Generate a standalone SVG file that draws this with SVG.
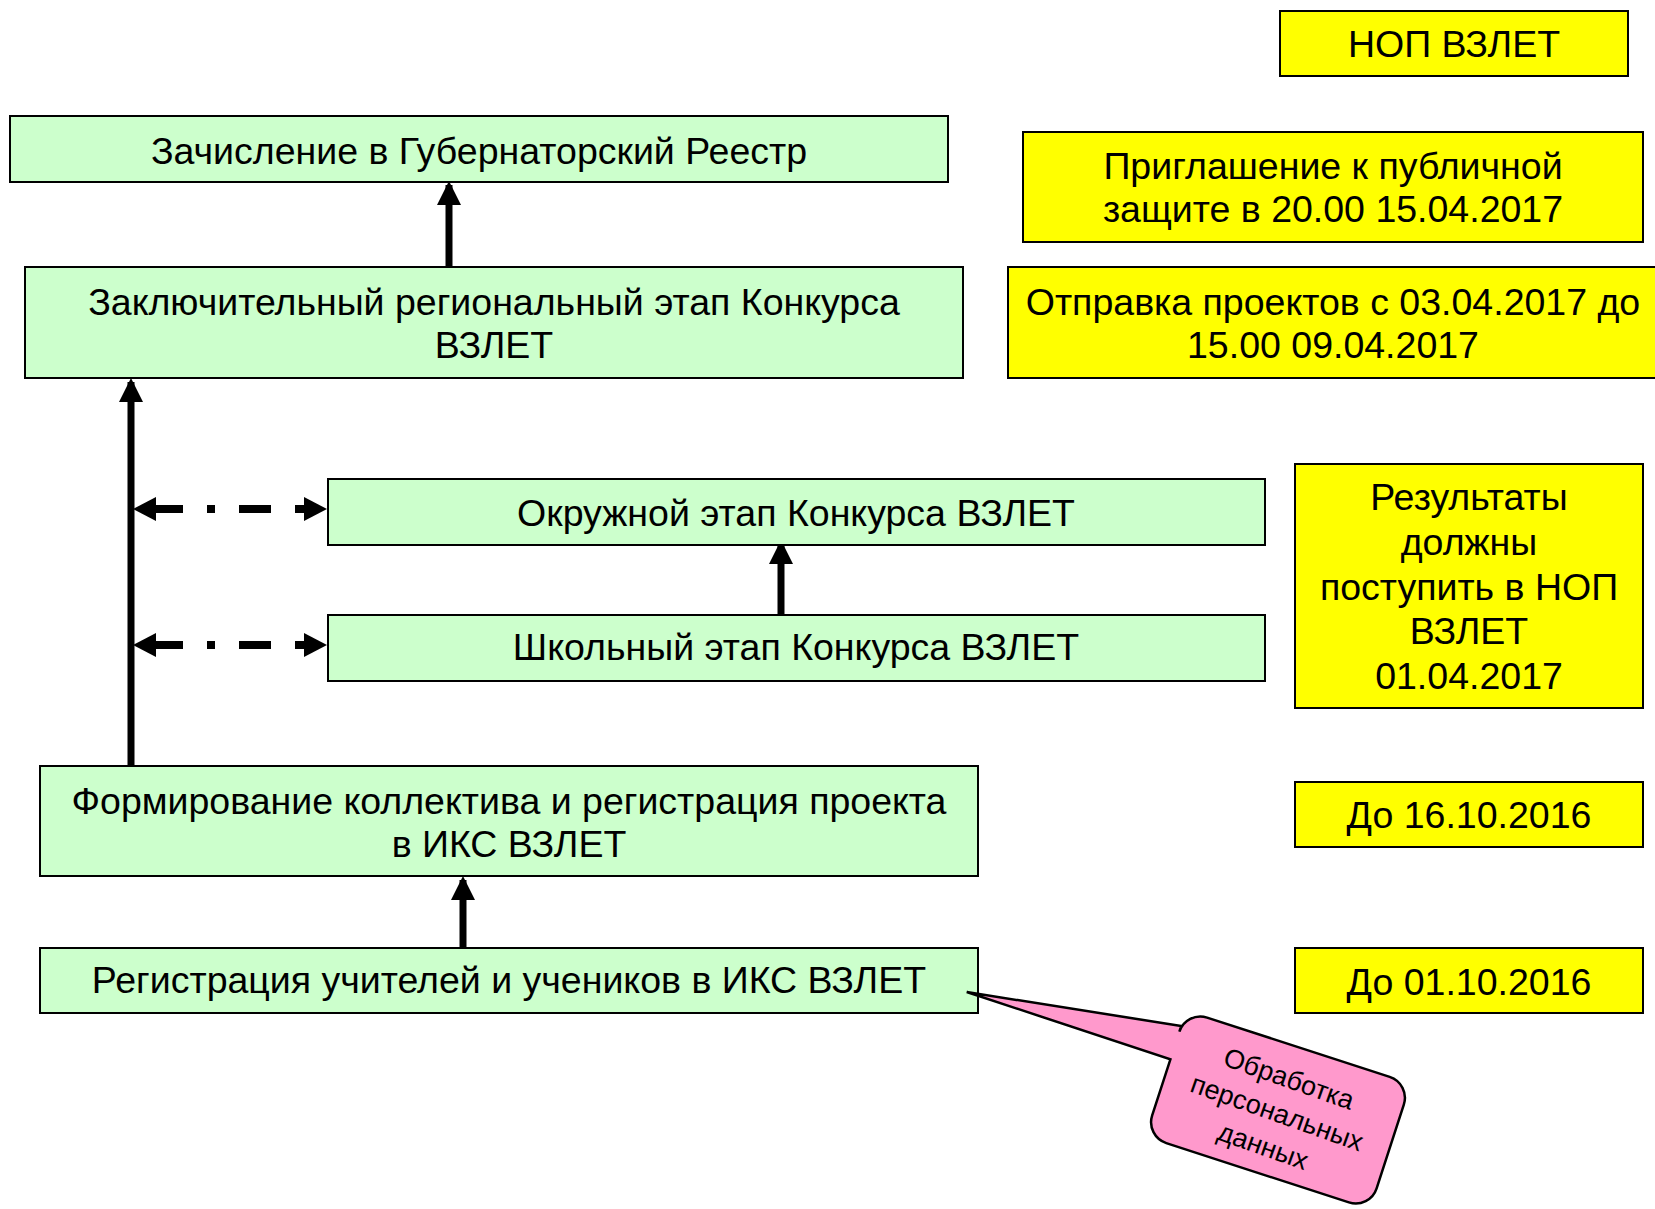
<svg xmlns="http://www.w3.org/2000/svg" width="1655" height="1209" viewBox="0 0 1655 1209">
<defs>
<style>
.g{fill:#CCFFCC;stroke:#000;stroke-width:2}
.y{fill:#FFFF00;stroke:#000;stroke-width:2}
.t{font-family:"Liberation Sans",Arial,sans-serif;font-size:37.5px;fill:#000;text-anchor:middle}
.ct{font-family:"Liberation Sans",Arial,sans-serif;font-size:27px;fill:#000;text-anchor:middle}
.solid{stroke:#000;stroke-width:7;fill:none}
.dash{stroke:#000;stroke-width:8;fill:none;stroke-dasharray:42 24 8 24 32 24 30}
</style>
<marker id="ah" viewBox="0 0 24 24" refX="20" refY="12" markerWidth="24" markerHeight="24" markerUnits="userSpaceOnUse" orient="auto-start-reverse">
<path d="M0,0 L24,12 L0,24 z" fill="#000"/>
</marker>
<marker id="ad" viewBox="0 0 23 24" refX="15" refY="12" markerWidth="23" markerHeight="24" markerUnits="userSpaceOnUse" orient="auto-start-reverse">
<path d="M0,0 L23,12 L0,24 z" fill="#000"/>
</marker>
</defs>
<rect width="1655" height="1209" fill="#fff"/>

<g id="connectors">
<line class="solid" x1="449" y1="267" x2="449" y2="185" marker-end="url(#ah)"/>
<line class="solid" x1="131" y1="766" x2="131" y2="382" marker-end="url(#ah)"/>
<line class="solid" x1="781" y1="615" x2="781" y2="544" marker-end="url(#ah)"/>
<line class="solid" x1="463" y1="948" x2="463" y2="880" marker-end="url(#ah)"/>
<path class="dash" d="M141,509 H319" marker-start="url(#ad)" marker-end="url(#ad)"/>
<path class="dash" d="M141,645 H319" marker-start="url(#ad)" marker-end="url(#ad)"/>
</g>

<g id="node-zachislenie">
<rect class="g" x="10" y="116" width="938" height="66"/>
<text class="t" x="479" y="164">Зачисление в Губернаторский Реестр</text>
</g>
<g id="node-zakl">
<rect class="g" x="25" y="267" width="938" height="111"/>
<text class="t" x="494" y="315">Заключительный региональный этап Конкурса</text>
<text class="t" x="494" y="358">ВЗЛЕТ</text>
</g>
<g id="node-okruzh">
<rect class="g" x="328" y="479" width="937" height="66"/>
<text class="t" x="796" y="526">Окружной этап Конкурса ВЗЛЕТ</text>
</g>
<g id="node-shkol">
<rect class="g" x="328" y="615" width="937" height="66"/>
<text class="t" x="796" y="660">Школьный этап Конкурса ВЗЛЕТ</text>
</g>
<g id="node-form">
<rect class="g" x="40" y="766" width="938" height="110"/>
<text class="t" x="509" y="814">Формирование коллектива и регистрация проекта</text>
<text class="t" x="509" y="857">в ИКС ВЗЛЕТ</text>
</g>
<g id="node-reg">
<rect class="g" x="40" y="948" width="938" height="65"/>
<text class="t" x="509" y="993">Регистрация учителей и учеников в ИКС ВЗЛЕТ</text>
</g>

<g id="node-nop">
<rect class="y" x="1280" y="11" width="348" height="65"/>
<text class="t" x="1454" y="57">НОП ВЗЛЕТ</text>
</g>
<g id="node-priglashenie">
<rect class="y" x="1023" y="132" width="620" height="110"/>
<text class="t" x="1333" y="179">Приглашение к публичной</text>
<text class="t" x="1333" y="222">защите в 20.00 15.04.2017</text>
</g>
<g id="node-otpravka">
<rect class="y" x="1008" y="267" width="652" height="111"/>
<text class="t" x="1333" y="315">Отправка проектов с 03.04.2017 до</text>
<text class="t" x="1333" y="358">15.00 09.04.2017</text>
</g>
<g id="node-rezultaty">
<rect class="y" x="1295" y="464" width="348" height="244"/>
<text class="t" x="1469" y="510">Результаты</text>
<text class="t" x="1469" y="555">должны</text>
<text class="t" x="1469" y="600">поступить в НОП</text>
<text class="t" x="1469" y="644">ВЗЛЕТ</text>
<text class="t" x="1469" y="689">01.04.2017</text>
</g>
<g id="node-do1610">
<rect class="y" x="1295" y="782" width="348" height="65"/>
<text class="t" x="1469" y="828">До 16.10.2016</text>
</g>
<g id="node-do0110">
<rect class="y" x="1295" y="948" width="348" height="65"/>
<text class="t" x="1469" y="995">До 01.10.2016</text>
</g>

<g id="node-callout" transform="translate(1278,1110) rotate(18)">
<path d="M-96,-66 H96 A22,22 0 0 1 118,-44 V44 A22,22 0 0 1 96,66 H-96 A22,22 0 0 1 -118,44 V-15 L-332.5,-16 L-118,-50 V-44 A22,22 0 0 1 -96,-66 Z" fill="#FF99CC" stroke="#000" stroke-width="2.5" stroke-linejoin="miter"/>
<g transform="rotate(1.5)">
<text class="ct" x="0" y="-24">Обработка</text>
<text class="ct" x="0" y="12">персональных</text>
<text class="ct" x="-2" y="48">данных</text>
</g>
</g>
</svg>
